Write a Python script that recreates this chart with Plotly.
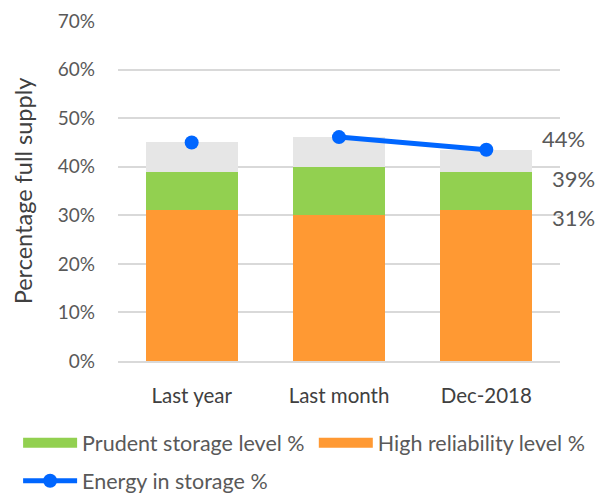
import plotly.graph_objects as go

categories = ["Last year", "Last month", "Dec-2018"]
high_reliability = [31.0, 30.0, 31.0]
prudent_storage = [39.0, 40.0, 39.0]
energy_in_storage = [45.0, 46.1, 43.5]
label_texts = ["44%", "39%", "31%"]

FONT = "Lato, Open Sans, sans-serif"
TXT = "#595959"
ORANGE, GREEN, GRAY, BLUE = "#FF9933", "#92D050", "#E6E6E6", "#0066FF"

orange_h = high_reliability
green_h = [p - h for p, h in zip(prudent_storage, high_reliability)]
gray_h = [e - p for e, p in zip(energy_in_storage, prudent_storage)]

fig = go.Figure()
fig.add_trace(go.Bar(x=categories, y=orange_h, name="High reliability level %",
                     showlegend=False, marker=dict(color=ORANGE, line=dict(width=0))))
fig.add_trace(go.Bar(x=categories, y=green_h, name="Prudent storage level %",
                     showlegend=False, marker=dict(color=GREEN, line=dict(width=0))))
fig.add_trace(go.Bar(x=categories, y=gray_h, name="Remainder", showlegend=False,
                     marker=dict(color=GRAY, line=dict(width=0))))
fig.add_trace(go.Scatter(x=categories[1:], y=energy_in_storage[1:], mode="lines+markers",
                         name="Energy in storage %", legend="legend2",
                         line=dict(color=BLUE, width=5),
                         marker=dict(color=BLUE, size=14, symbol="circle")))
fig.add_trace(go.Scatter(x=categories[:1], y=energy_in_storage[:1], mode="markers",
                         showlegend=False,
                         marker=dict(color=BLUE, size=14, symbol="circle")))
# legend swatches (wide rectangles like the original)
fig.add_trace(go.Scatter(x=[None], y=[None], mode="lines", name="Prudent storage level %",
                         legend="legend", line=dict(color=GREEN, width=13)))
fig.add_trace(go.Scatter(x=[None], y=[None], mode="lines", name="High reliability level %",
                         legend="legend3", line=dict(color=ORANGE, width=13)))

# right-side labels for Dec-2018
fig.add_annotation(x=categories[2], y=energy_in_storage[2], text=label_texts[0],
                   xanchor="left", yanchor="middle", xshift=54, yshift=11, showarrow=False,
                   font=dict(size=22, color=TXT, family=FONT))
fig.add_annotation(x=categories[2], y=prudent_storage[2], text=label_texts[1],
                   xanchor="left", yanchor="middle", xshift=64, yshift=-7, showarrow=False,
                   font=dict(size=22, color=TXT, family=FONT))
fig.add_annotation(x=categories[2], y=high_reliability[2], text=label_texts[2],
                   xanchor="left", yanchor="middle", xshift=64, yshift=-7, showarrow=False,
                   font=dict(size=22, color=TXT, family=FONT))

legend_common = dict(orientation="h", xanchor="left", yanchor="top",
                     font=dict(size=21.5, color=TXT, family=FONT),
                     itemwidth=54, bgcolor="rgba(0,0,0,0)")

fig.update_layout(
    width=607, height=493,
    margin=dict(l=118, r=47, t=21, b=132, autoexpand=False),
    barmode="stack", bargap=0.375,
    plot_bgcolor="white", paper_bgcolor="white",
    font=dict(family=FONT, color=TXT, size=18),
    showlegend=True,
    legend=dict(x=-0.226, y=-0.18, **legend_common),
    legend3=dict(x=0.443, y=-0.18, **legend_common),
    legend2=dict(x=-0.226, y=-0.292, **legend_common),
    xaxis=dict(range=[-0.5, 2.5], showline=True, linecolor="#D9D9D9", linewidth=1.5,
               ticks="", ticklabelstandoff=16,
               tickfont=dict(size=20.5, color="#404040", family=FONT)),
    yaxis=dict(range=[0, 70], dtick=10, ticksuffix="%", showgrid=True,
               gridcolor="#D9D9D9", gridwidth=1.5, zeroline=False,
               ticklabelstandoff=22,
               tickfont=dict(size=19, color=TXT, family=FONT),
               title=dict(text="Percentage full supply", standoff=18,
                          font=dict(size=23.5, color="#404040", family=FONT))),
)

fig.write_html("out.html", config={"displayModeBar": False},
               post_script="document.body.style.margin='0';")
